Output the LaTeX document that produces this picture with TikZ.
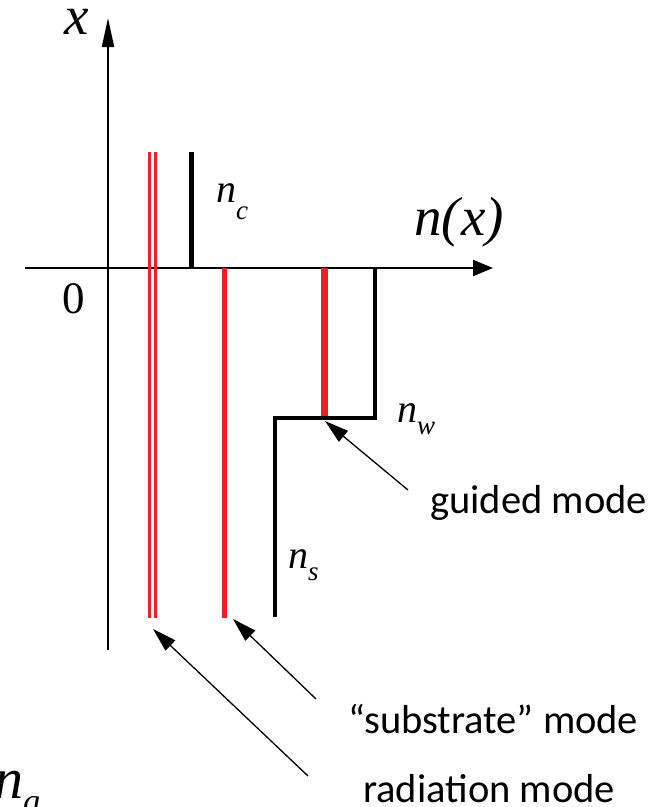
\documentclass[tikz,border=0pt]{standalone}
\usepackage{fontspec}
\setmainfont{Liberation Serif}
\newfontfamily\lblfont{Carlito}
\usetikzlibrary{arrows.meta}
\definecolor{modered}{RGB}{237,32,36}
\tikzset{
  ax/.style={line width=2pt},
  prof/.style={line width=3.5pt, line cap=butt},
  redline/.style={modered, line cap=butt},
  ptr/.style={line width=1.3pt, -{Triangle[length=24pt,width=14pt]}},
  mathlbl/.style={inner sep=0pt, anchor=base west, font=\fontsize{40}{40}\selectfont\itshape},
  biglbl/.style={inner sep=0pt, anchor=base west, font=\fontsize{55}{55}\selectfont\itshape},
  txtlbl/.style={inner sep=0pt, anchor=base west, font=\lblfont\fontsize{40.5}{40.5}\selectfont},
}
\newcommand{\subl}[2]{\raisebox{-#1pt}{\fontsize{27}{27}\selectfont #2}}
\begin{document}
\begin{tikzpicture}[x=1pt,y=-1pt]
\useasboundingbox (0,0) rectangle (671,807);
% axes
\coordinate (vb) at (108,650);
\coordinate (vt) at (108,18);
\coordinate (hl) at (25,268);
\coordinate (hr) at (493,268);
\draw[ax, -{Triangle[length=29pt,width=12pt]}] (vb) -- (vt);
\draw[ax, -{Triangle[length=20pt,width=16pt]}] (hl) -- (hr);
\node[biglbl] (xl) at (64,34) {x};
\node[biglbl] (nxl) at (414,235) {n(\kern1pt x)};
\node[inner sep=0pt, anchor=base west, font=\fontsize{45}{45}\selectfont] (zero) at (62,313) {0};
% red mode lines
\coordinate (r1t) at (149.5,152); \coordinate (r1b) at (149.5,618);
\coordinate (r2t) at (155.2,152); \coordinate (r2b) at (155.2,618);
\coordinate (r3t) at (224,268);   \coordinate (r3b) at (224,618);
\coordinate (r4t) at (324.5,268); \coordinate (r4b) at (324.5,418);
\draw[redline, line width=2.8pt] (r1t) -- (r1b);
\draw[redline, line width=2.8pt] (r2t) -- (r2b);
\draw[redline, line width=5pt] (r3t) -- (r3b);
\draw[redline, line width=7pt] (r4t) -- (r4b);
% index profile
\coordinate (ct) at (191,152); \coordinate (cb) at (191,268);
\draw[line width=5pt] (ct) -- (cb);
\coordinate (p1) at (375,268);
\coordinate (p2) at (375,418);
\coordinate (p3) at (275,418);
\coordinate (p4) at (275,617);
\draw[prof, line join=miter] (p1) -- (p2) -- (p3) -- (p4);
% refractive index labels
\node[mathlbl] (nc) at (216,202) {n\subl{17}{c}};
\node[mathlbl] (nw) at (397,422) {n\subl{12}{w}};
\node[mathlbl] (ns) at (288,568) {n\subl{12}{s}};
\node[inner sep=0pt, anchor=base west, font=\fontsize{58}{58}\selectfont\itshape] (ng) at (-6,798) {n\raisebox{-14pt}{\fontsize{34}{34}\selectfont g}};
% mode labels and pointers
\node[txtlbl] (gm) at (430,513) {guided mode};
\node[txtlbl] (sm) at (348,733) {“substrate” mode};
\node[txtlbl] (rm) at (363,802) {radiation mode};
\coordinate (ga) at (408,490);
\coordinate (gt) at (325,421);
\coordinate (sa) at (316,699);
\coordinate (st) at (233,619);
\coordinate (ra) at (308,776);
\coordinate (rt) at (153,629);
\draw[ptr] (ga) -- (gt);
\draw[ptr] (sa) -- (st);
\draw[ptr] (ra) -- (rt);
\end{tikzpicture}
\end{document}
